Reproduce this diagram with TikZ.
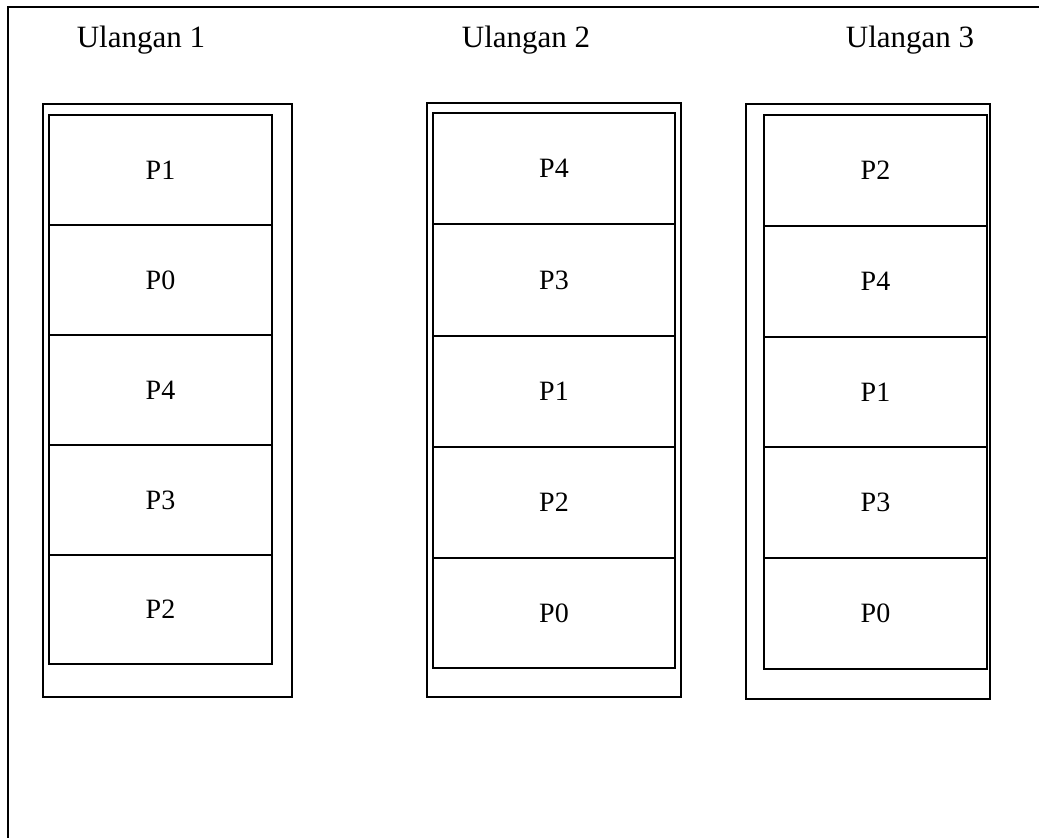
\documentclass[tikz,border=0pt]{standalone}
\usepackage{fontspec}
\setmainfont{Liberation Serif}
\begin{document}
\begin{tikzpicture}[x=1pt,y=-1pt,
  frame/.style={line width=2pt},
  outerbox/.style={draw, line width=2.2pt, inner sep=0pt},
  cellbox/.style={draw, line width=1.1pt, inner sep=0pt, font=\fontsize{28}{28}\selectfont},
  header/.style={anchor=base, inner sep=0pt, font=\fontsize{31}{31}\selectfont}]
\useasboundingbox (0,0) rectangle (1039,838);
% outer frame (top and left visible)
\coordinate (fl) at (8,838);
\coordinate (ftl) at (8,7);
\coordinate (ftr) at (1039,7);
\draw[frame] (fl) -- (ftl) -- (ftr);
% headers
\node[header] (h1) at (141,47) {Ulangan 1};
\node[header] (h2) at (526,47) {Ulangan 2};
\node[header] (h3) at (910,47) {Ulangan 3};
% outer boxes
\draw[line width=2.2pt] (43,104) rectangle (292,697);
\draw[line width=2.2pt] (427,103) rectangle (681,697);
\draw[line width=2.2pt] (746,104) rectangle (990,699);
% column 1
\foreach \t/\a/\b [count=\i] in {P1/115/225, P0/225/335, P4/335/445, P3/445/555, P2/555/664}{
  \node[cellbox, minimum width=223pt, minimum height={\b-\a}] (c1\i) at (160.5,{(\a+\b)/2}) {\t};
}
% column 2
\foreach \t/\a/\b [count=\i] in {P4/113/224, P3/224/336, P1/336/447, P2/447/558, P0/558/668}{
  \node[cellbox, minimum width=242pt, minimum height={\b-\a}] (c2\i) at (554,{(\a+\b)/2}) {\t};
}
% column 3
\foreach \t/\a/\b [count=\i] in {P2/115/226, P4/226/337, P1/337/447, P3/447/558, P0/558/669}{
  \node[cellbox, minimum width=223pt, minimum height={\b-\a}] (c3\i) at (875.5,{(\a+\b)/2}) {\t};
}
\end{tikzpicture}
\end{document}
